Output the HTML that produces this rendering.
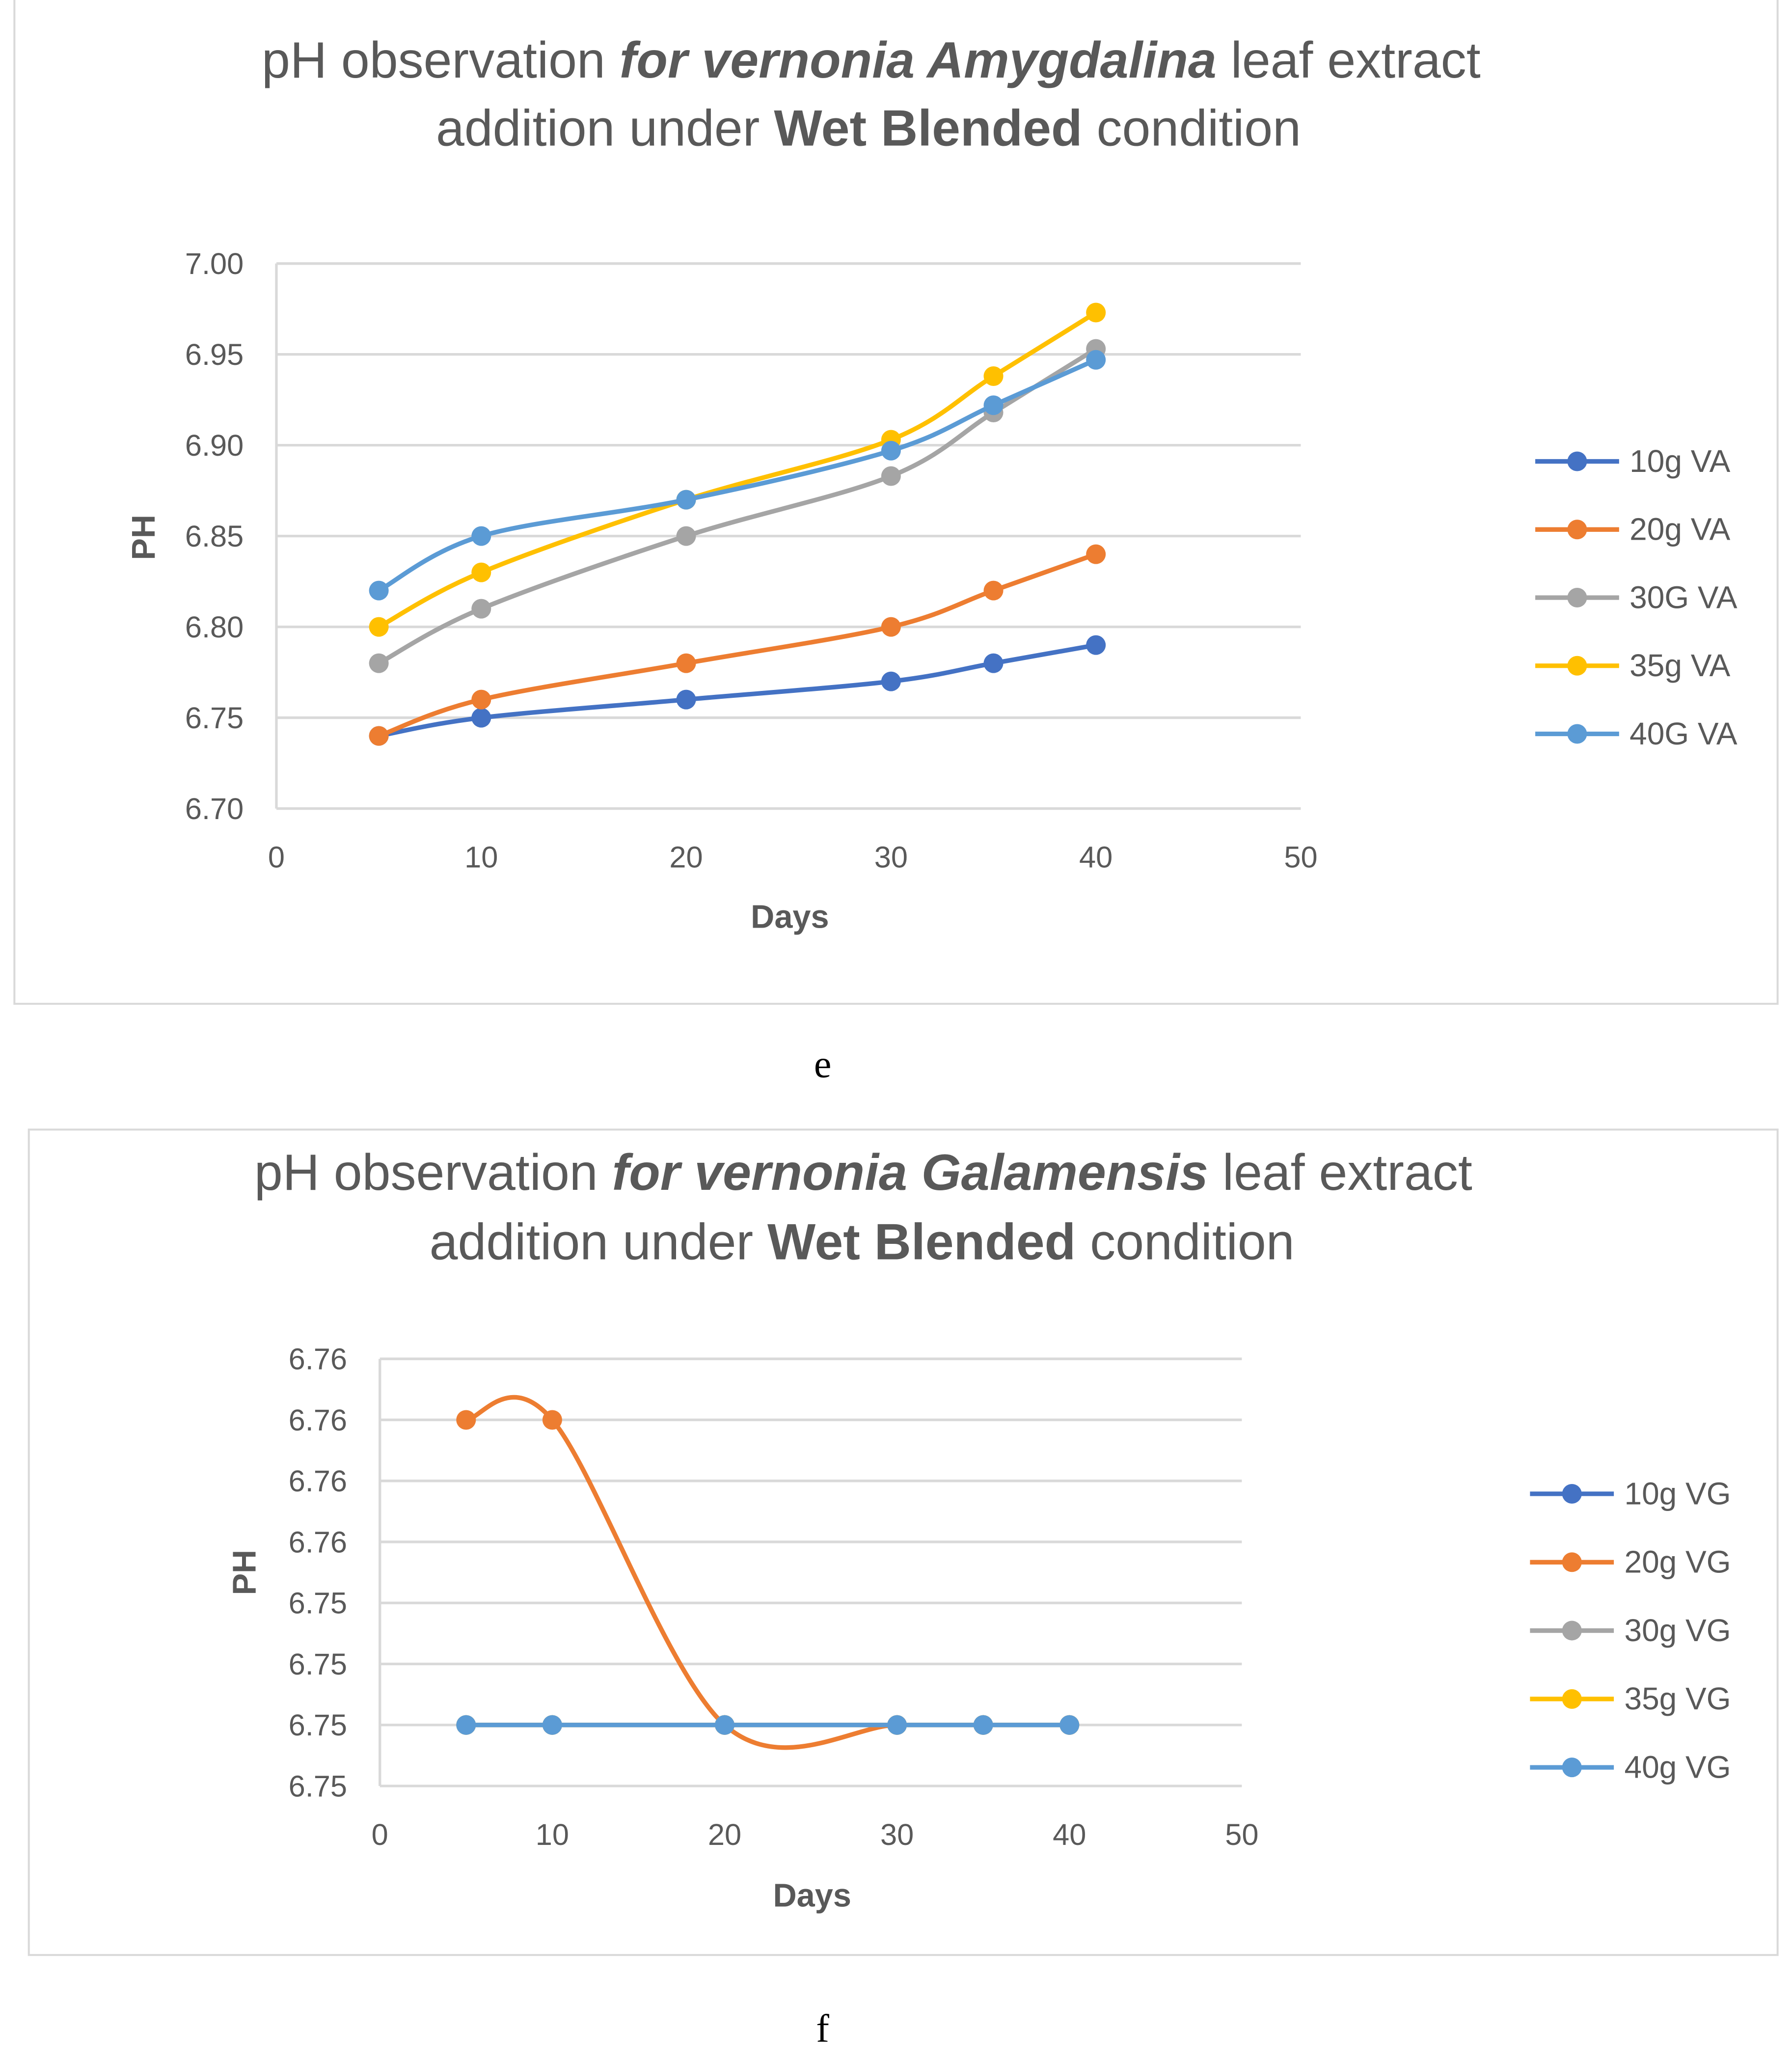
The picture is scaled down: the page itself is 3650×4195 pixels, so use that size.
<!DOCTYPE html>
<html><head><meta charset="utf-8"><style>
html,body{margin:0;padding:0;background:#fff;}
svg{display:block;font-family:"Liberation Sans",sans-serif;}
</style></head><body>
<svg id="root" width="3650" height="4195" viewBox="0 0 1368 1572" xmlns="http://www.w3.org/2000/svg">
<rect x="11" y="-2" width="1346" height="768" fill="#fff" stroke="#d9d9d9" stroke-width="1.5"/>
<text x="665" y="59" text-anchor="middle" font-size="39" fill="#595959">pH observation <tspan font-weight="bold" font-style="italic">for vernonia Amygdalina</tspan> leaf extract</text>
<text x="663" y="111" text-anchor="middle" font-size="39" fill="#595959">addition under <tspan font-weight="bold">Wet Blended</tspan> condition</text>
<g id="c1"></g>
<text x="628" y="822" text-anchor="middle" font-size="30" font-family="Liberation Serif,serif" fill="#000">e</text>

<rect x="22" y="862" width="1335" height="630" fill="#fff" stroke="#d9d9d9" stroke-width="1.5"/>
<text x="659" y="908" text-anchor="middle" font-size="39" fill="#595959">pH observation <tspan font-weight="bold" font-style="italic">for vernonia Galamensis</tspan> leaf extract</text>
<text x="658" y="961" text-anchor="middle" font-size="39" fill="#595959">addition under <tspan font-weight="bold">Wet Blended</tspan> condition</text>
<g id="c2"></g>
<text x="628" y="1558" text-anchor="middle" font-size="30" font-family="Liberation Serif,serif" fill="#000">f</text>
</svg>
<script>
const NS="http://www.w3.org/2000/svg";
const colors=["#4472C4","#ED7D31","#A5A5A5","#FFC000","#5B9BD5"];
const days=[5,10,20,30,35,40];
// chart e
const eNames=["10g VA","20g VA","30G VA","35g VA","40G VA"];
const e10=[6.74,6.75,6.76,6.77,6.78,6.79];
const e20=[6.74,6.76,6.78,6.80,6.82,6.84];
const e30=[6.78,6.81,6.85,6.883,6.918,6.953];
const e35=[6.80,6.83,6.87,6.903,6.938,6.973];
const e40=[6.82,6.85,6.87,6.897,6.922,6.947];
const eYTicks=[6.70,6.75,6.80,6.85,6.90,6.95,7.00];
const eYLabels=["6.70","6.75","6.80","6.85","6.90","6.95","7.00"];
const xTicks=[0,10,20,30,40,50];
// chart f
const fNames=["10g VG","20g VG","30g VG","35g VG","40g VG"];
const f10=[6.7535,6.7535,6.7535,6.7535,6.7535,6.7535];
const f20=[6.7560,6.7560,6.7535,6.7535,6.7535,6.7535];
const f30=[6.7535,6.7535,6.7535,6.7535,6.7535,6.7535];
const f35=[6.7535,6.7535,6.7535,6.7535,6.7535,6.7535];
const f40=[6.7535,6.7535,6.7535,6.7535,6.7535,6.7535];
const fYTicks=[6.7530,6.7535,6.7540,6.7545,6.7550,6.7555,6.7560,6.7565];
const fYLabels=["6.75","6.75","6.75","6.75","6.76","6.76","6.76","6.76"];

function el(p,t,a){const e=document.createElementNS(NS,t);for(const k in a)e.setAttribute(k,a[k]);p.appendChild(e);return e;}
function smooth(pts){let d=`M${pts[0][0]},${pts[0][1]}`;for(let i=0;i<pts.length-1;i++){const p0=pts[Math.max(0,i-1)],p1=pts[i],p2=pts[i+1],p3=pts[Math.min(pts.length-1,i+2)];
const c1=[p1[0]+(p2[0]-p0[0])/6,p1[1]+(p2[1]-p0[1])/6],c2=[p2[0]-(p3[0]-p1[0])/6,p2[1]-(p3[1]-p1[1])/6];d+=` C${c1[0]},${c1[1]} ${c2[0]},${c2[1]} ${p2[0]},${p2[1]}`;}return d;}

function chart(g,cfg){
 const X=v=>cfg.x0+(v-0)/50*(cfg.x1-cfg.x0);
 const Y=v=>cfg.yb+(v-cfg.ymin)/(cfg.ymax-cfg.ymin)*(cfg.yt-cfg.yb);
 cfg.yTicks.forEach((t,i)=>{
  const gl=el(g,"line",{x1:cfg.x0,x2:cfg.x1,y1:Y(t),y2:Y(t),stroke:"#d9d9d9","stroke-width":2});
  
  
  const tl=el(g,"text",{x:cfg.x0-25,y:Y(t)+8,"text-anchor":"end","font-size":23,fill:"#595959"});tl.textContent=cfg.yLabels[i];
  
  
 });
 const ax=el(g,"line",{x1:cfg.x0,x2:cfg.x0,y1:cfg.yt,y2:cfg.yb,stroke:"#d9d9d9","stroke-width":2});
 
 
 xTicks.forEach(t=>{const tl=el(g,"text",{x:X(t),y:cfg.yb+45,"text-anchor":"middle","font-size":23,fill:"#595959"});tl.textContent=t;
  
  });
 const xt=el(g,"text",{x:cfg.xtx,y:cfg.xty,"text-anchor":"middle","font-size":25,"font-weight":"bold",fill:"#595959"});xt.textContent="Days";
 
 
 const yt=el(g,"text",{x:cfg.ytx,y:cfg.yty,"text-anchor":"middle","font-size":25,"font-weight":"bold",fill:"#595959",transform:`rotate(-90 ${cfg.ytx} ${cfg.yty})`});yt.textContent="PH";
 
 
 cfg.series.forEach((s,k)=>{
  const pts=days.map((d,i)=>[X(d),Y(s[i])]);
  const p=el(g,"path",{d:smooth(pts),fill:"none",stroke:colors[k],"stroke-width":3.5,"stroke-linecap":"round"});
  
  
  pts.forEach(q=>{const c=el(g,"circle",{cx:q[0],cy:q[1],r:7.5,fill:colors[k]});
   
   });
  const ly=cfg.ly0+k*cfg.ldy;
  const lg=el(g,"g",{});
  
  
  el(lg,"line",{x1:cfg.lx,x2:cfg.lx+64,y1:ly,y2:ly,stroke:colors[k],"stroke-width":3.5});
  el(lg,"circle",{cx:cfg.lx+32,cy:ly,r:7.5,fill:colors[k]});
  const lt=el(lg,"text",{x:cfg.lx+72,y:ly+8,"font-size":24,fill:"#595959"});lt.textContent=cfg.names[k];
 });
}
chart(document.getElementById("c1"),{x0:211,x1:993,yt:201,yb:617,ymin:6.70,ymax:7.00,yTicks:eYTicks,yLabels:eYLabels,
 series:[e10,e20,e30,e35,e40],names:eNames,xtx:603,xty:708,ytx:118,yty:410,lx:1172,ly0:352,ldy:52});
chart(document.getElementById("c2"),{x0:290,x1:948,yt:1037,yb:1363,ymin:6.7530,ymax:6.7565,yTicks:fYTicks,yLabels:fYLabels,
 series:[f10,f20,f30,f35,f40],names:fNames,xtx:620,xty:1455,ytx:195,yty:1200,lx:1168,ly0:1140,ldy:52.2});
</script>
</body></html>
